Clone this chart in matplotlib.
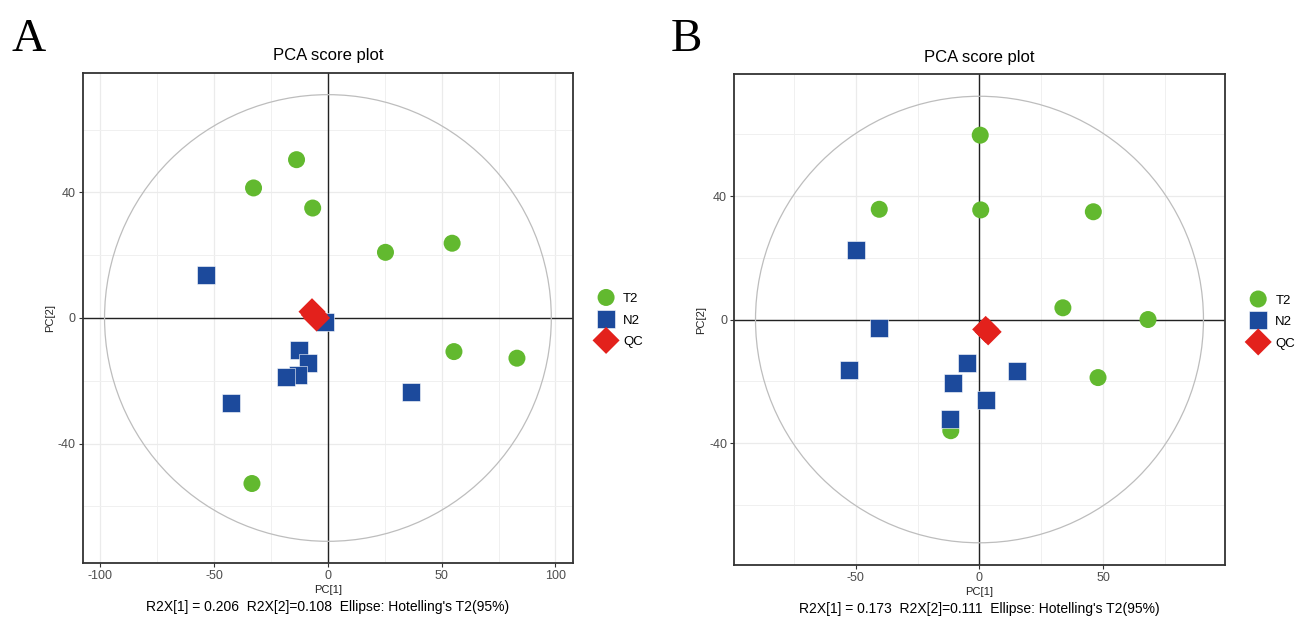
import matplotlib
matplotlib.use("Agg")
import matplotlib.pyplot as plt
import numpy as np
from matplotlib.patches import Ellipse

plt.rcParams['font.family'] = ['Liberation Sans', 'DejaVu Sans']
plt.rcParams['axes.unicode_minus'] = False

# Panel A scores
a_t2_x = [-13.8, -32.7, -6.7, 25.3, 54.6, 55.4, 83.1, -33.4]
a_t2_y = [50.4, 41.4, 35.0, 20.9, 23.8, -10.7, -12.8, -52.7]
a_n2_x = [-53.7, -1.5, -12.6, -8.6, -13.0, -18.4, -42.5, 36.7]
a_n2_y = [13.7, -1.3, -10.2, -14.2, -18.0, -18.9, -27.0, -23.5]
a_qc_x = [-7.0, -6.0, -5.0]
a_qc_y = [2.0, 1.0, 0.0]

# Panel B scores
b_t2_x = [0.3, -40.5, 0.5, 46.0, 33.7, 68.1, 47.9, -11.6]
b_t2_y = [59.7, 35.7, 35.5, 34.9, 3.8, 0.0, -18.8, -36.0]
b_n2_x = [-49.7, -40.7, -52.6, -5.1, -10.9, -11.9, 2.7, 15.2]
b_n2_y = [22.4, -2.6, -16.2, -14.2, -20.4, -32.3, -25.9, -16.7]
b_qc_x = [2.5, 3.5]
b_qc_y = [-3.2, -4.0]

a_caption = "R2X[1] = 0.206  R2X[2]=0.108  Ellipse: Hotelling's T2(95%)"
b_caption = "R2X[1] = 0.173  R2X[2]=0.111  Ellipse: Hotelling's T2(95%)"

GREEN = '#62B92F'
BLUE = '#1C4A9C'
RED = '#E3211C'
FRAME = '#333333'


def pca_panel(ax, t2, n2, qc, ell, xlim, ylim, xmaj, xmin, ymaj, ymin, caption):
    ax.set_xlim(*xlim)
    ax.set_ylim(*ylim)
    ax.set_xticks(xmaj)
    ax.set_xticks(xmin, minor=True)
    ax.set_yticks(ymaj)
    ax.set_yticks(ymin, minor=True)
    ax.grid(which='major', color='#EBEBEB', lw=0.9, zorder=0)
    ax.grid(which='minor', color='#F0F0F0', lw=0.7, zorder=0)
    ax.set_axisbelow(True)
    ax.tick_params(which='major', length=3, width=0.8, color=FRAME,
                   labelsize=9, labelcolor='#4D4D4D', pad=2)
    ax.tick_params(which='minor', length=0)
    for s in ax.spines.values():
        s.set_color(FRAME)
        s.set_linewidth(1.3)
    ax.axhline(0, color='#222222', lw=1.0, zorder=1)
    ax.axvline(0, color='#222222', lw=1.0, zorder=1)
    ax.add_patch(Ellipse((0, 0), 2 * ell[0], 2 * ell[1], fill=False,
                         edgecolor='#BDBDBD', lw=0.9, zorder=1))
    ax.scatter(t2[0], t2[1], s=150, marker='o', color=GREEN, edgecolors='none',
               zorder=3, label='T2')
    ax.scatter(n2[0], n2[1], s=150, marker='s', color=BLUE, edgecolors='white',
               linewidths=0.4, zorder=3, label='N2')
    ax.scatter(qc[0], qc[1], s=190, marker='D', color=RED, edgecolors='none',
               zorder=4, label='QC')
    ax.set_title('PCA score plot', fontsize=12, pad=9)
    ax.set_xlabel('PC[1]', fontsize=8, color='#222222', labelpad=2)
    ax.set_ylabel('PC[2]', fontsize=8, color='#222222', labelpad=2)
    ax.text(0.5, -0.075, caption, transform=ax.transAxes, ha='center', va='top',
            fontsize=10)
    leg = ax.legend(loc='center left', bbox_to_anchor=(1.03, 0.495), frameon=False,
                    fontsize=9.5, handletextpad=0.3, labelspacing=0.7,
                    borderaxespad=0, scatteryoffsets=[0.5])
    return leg


fig = plt.figure(figsize=(13, 6.19), dpi=100)
axA = fig.add_axes([0.0638, 0.0905, 0.3769, 0.7916])
axB = fig.add_axes([0.5646, 0.0872, 0.3777, 0.7932])

pca_panel(axA, (a_t2_x, a_t2_y), (a_n2_x, a_n2_y), (a_qc_x, a_qc_y),
          (98.2, 71.1), (-107.7, 107.7), (-78, 78),
          [-100, -50, 0, 50, 100], [-75, -25, 25, 75],
          [-40, 0, 40], [-60, -20, 20, 60], a_caption)
pca_panel(axB, (b_t2_x, b_t2_y), (b_n2_x, b_n2_y), (b_qc_x, b_qc_y),
          (90.5, 72.3), (-99.2, 99.2), (-79.5, 79.5),
          [-50, 0, 50], [-75, -25, 25, 75],
          [-40, 0, 40], [-60, -20, 20, 60], b_caption)

fig.text(0.009, 0.97, 'A', fontsize=34, family='Liberation Serif', va='top', ha='left')
fig.text(0.516, 0.97, 'B', fontsize=34, family='Liberation Serif', va='top', ha='left')

fig.savefig('out.png', dpi=100)
